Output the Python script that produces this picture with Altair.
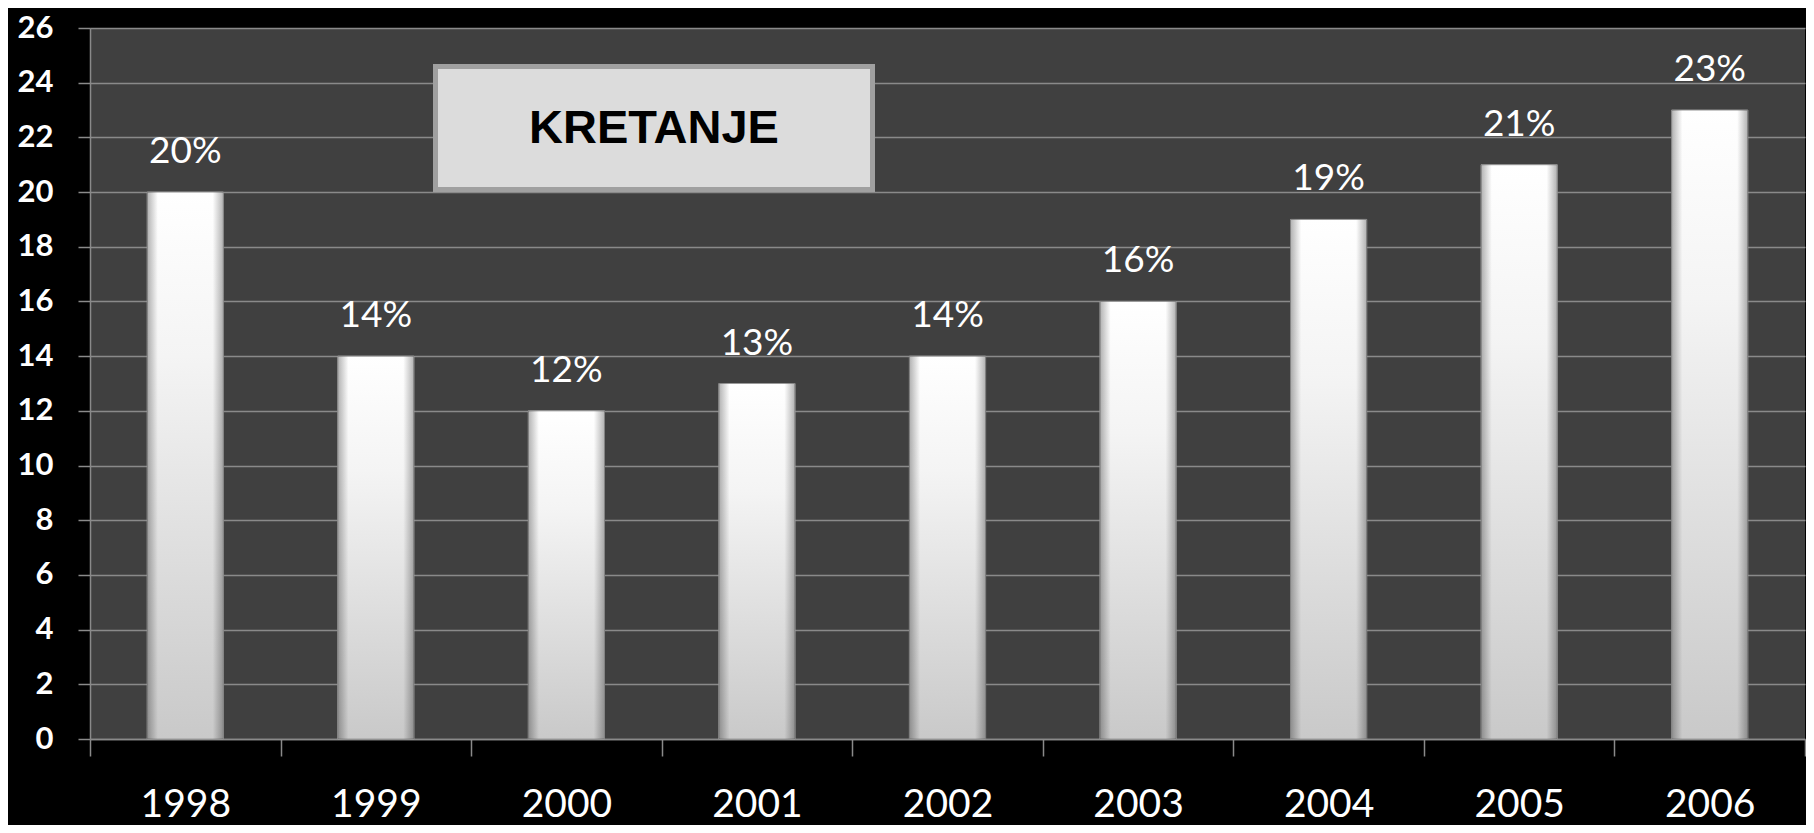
import altair as alt
import pandas as pd

years = ["1998", "1999", "2000", "2001", "2002", "2003", "2004", "2005", "2006"]
values = [20, 14, 12, 13, 14, 16, 19, 21, 23]
labels = ["20%", "14%", "12%", "13%", "14%", "16%", "19%", "21%", "23%"]
y_ticks = list(range(0, 27, 2))
title_text = ["KRETANJE"]

df = pd.DataFrame({"year": years, "value": values, "label": labels})
title_df = pd.DataFrame({"t": title_text})

GRID = "#8a8a8a"
PLOT_W = 1715
PLOT_H = 711
TOP = 20

x_enc = alt.X(
    "year:N", sort=years, title=None,
    scale=alt.Scale(paddingInner=0, paddingOuter=0),
    axis=alt.Axis(labelAngle=0, tickBand="extent", labelFont="Lato", labelFontSize=39,
                  labelColor="white", labelBaseline="alphabetic", labelPadding=60,
                  tickSize=17, tickColor=GRID, tickWidth=1.5, domainColor=GRID,
                  domainWidth=1.5, grid=False),
)
y_enc = alt.Y(
    "value:Q", title=None,
    scale=alt.Scale(domain=[0, 26], nice=False),
    axis=alt.Axis(values=y_ticks, labelFont="Lato", labelFontSize=31, labelFontWeight="bold",
                  labelColor="white", labelPadding=25, tickSize=12, tickColor=GRID,
                  tickWidth=1.5, domainColor=GRID, domainWidth=1.5, gridColor=GRID,
                  gridWidth=1.5),
)

vert_grad = alt.LinearGradient(
    gradient="linear", x1=0, y1=0, x2=0, y2=1,
    stops=[alt.GradientStop(color="#ffffff", offset=0),
           alt.GradientStop(color="#f4f4f4", offset=0.3),
           alt.GradientStop(color="#c9c9c9", offset=1)],
)
side_grad = alt.LinearGradient(
    gradient="linear", x1=0, y1=0, x2=1, y2=0,
    stops=[alt.GradientStop(color="rgba(0,0,0,0.30)", offset=0),
           alt.GradientStop(color="rgba(0,0,0,0)", offset=0.14),
           alt.GradientStop(color="rgba(0,0,0,0)", offset=0.86),
           alt.GradientStop(color="rgba(0,0,0,0.30)", offset=1)],
)

base = alt.Chart(df)

bars = base.mark_bar(width=alt.RelativeBandSize(0.4), color=vert_grad,
                     stroke="#9a9a9a", strokeWidth=1).encode(x=x_enc, y=y_enc)
bevel = base.mark_bar(width=alt.RelativeBandSize(0.4), color=side_grad).encode(
    x=alt.X("year:N", sort=years), y="value:Q")
texts = base.mark_text(font="Lato", fontSize=37, color="white", align="center",
                       baseline="alphabetic", dy=-29).encode(
    x=alt.X("year:N", sort=years), y="value:Q", text="label:N")

box = alt.Chart(title_df).mark_rect(fill="#dcdcdc", stroke="#a0a0a0", strokeWidth=5).encode(
    x=alt.value(345.5), x2=alt.value(782.5), y=alt.value(38.5), y2=alt.value(161.5))
box_text = alt.Chart(title_df).mark_text(font="Liberation Sans", fontWeight="bold", fontSize=47,
                                          color="black", align="center", baseline="middle").encode(
    x=alt.value(564), y=alt.value(101), text="t:N")

chart = alt.layer(bars, bevel, texts, box, box_text).properties(
    width=PLOT_W, height=PLOT_H,
    padding={"left": 82, "top": TOP, "right": 1, "bottom": 86},
    autosize=alt.AutoSizeParams(type="none"),
    background="black",
).configure_view(fill="#404040", stroke=None)

chart.save("out.html", embed_options={"renderer": "svg", "actions": False})
